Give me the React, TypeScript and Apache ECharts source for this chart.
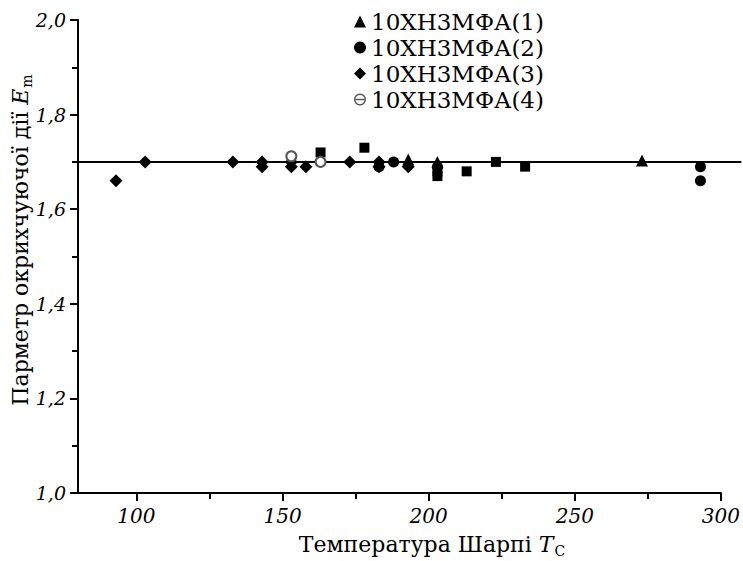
import React, { useEffect, useRef } from "react";
import * as echarts from "echarts";

const seriesNames = ["10ХН3МФА(1)", "10ХН3МФА(2)", "10ХН3МФА(3)", "10ХН3МФА(4)"];
const triangles: number[][] = [[193, 1.705], [203, 1.70], [273, 1.703]];
const circles: number[][] = [[183, 1.69], [188, 1.70], [203, 1.69], [293, 1.69], [293, 1.66]];
const diamonds: number[][] = [
  [93, 1.66], [103, 1.70], [133, 1.70], [143, 1.70], [143, 1.69], [153, 1.70], [153, 1.69],
  [158, 1.69], [173, 1.70], [183, 1.70], [183, 1.69], [193, 1.69],
];
const hollow: number[][] = [[153, 1.712], [163, 1.70]];
const squares: number[][] = [[163, 1.72], [178, 1.73], [203, 1.68], [203, 1.67], [213, 1.68], [223, 1.70], [233, 1.69]];
const refLine: number[][] = [[78.3, 1.7], [307, 1.7]];
const xMajorTicks = [100, 150, 200, 250, 300];
const xMinorTicks = [125, 175, 225, 275];

const FONT = "DejaVu Serif";
// circle outline with horizontal bar (⊖)
const THETA_ICON =
  "path://M50,0A50,50,0,1,1,49.99,0Z M50,12A38,38,0,1,0,50.01,12Z M14,44L86,44L86,56L14,56Z";

export default function App() {
  const ref = useRef<HTMLDivElement>(null);
  useEffect(() => {
    if (!ref.current) return;
    const chart = echarts.init(ref.current, null, { renderer: "svg" });
    const xBase = {
      type: "value" as const,
      min: 80,
      max: 300,
      splitLine: { show: false },
      axisLine: { lineStyle: { color: "#000", width: 2 } },
    };
    const sub = { fontFamily: FONT, fontSize: 14, fill: "#000", padding: [13, 0, 0, 1] };
    const ital = { fontFamily: FONT, fontSize: 22, fontStyle: "italic", fill: "#000" };
    chart.setOption({
      animation: false,
      backgroundColor: "#fff",
      grid: { left: 78, right: 22, top: 20, bottom: 68, containLabel: false },
      legend: {
        orient: "vertical",
        left: 354,
        top: 10,
        padding: 0,
        itemWidth: 12,
        itemHeight: 12,
        itemGap: 3,
        data: [
          { name: seriesNames[0] },
          { name: seriesNames[1] },
          { name: seriesNames[2] },
          { name: seriesNames[3], icon: THETA_ICON, itemStyle: { color: "#555" } },
        ],
        textStyle: { fontFamily: FONT, fontSize: 23, color: "#000", lineHeight: 23 },
      },
      xAxis: [
        {
          ...xBase,
          axisTick: { show: true, length: 8, inside: false, customValues: xMajorTicks, lineStyle: { color: "#000", width: 2 } },
          axisLabel: {
            customValues: xMajorTicks,
            margin: 13,
            fontFamily: FONT,
            fontStyle: "italic",
            fontSize: 20,
            color: "#000",
          },
        },
        {
          ...xBase,
          position: "bottom",
          axisLine: { show: false },
          axisTick: { show: true, length: 6, customValues: xMinorTicks, lineStyle: { color: "#000", width: 2 } },
          axisLabel: { show: false },
        },
      ],
      yAxis: {
        type: "value",
        min: 1.0,
        max: 2.0,
        interval: 0.2,
        splitLine: { show: false },
        axisLine: { show: true, lineStyle: { color: "#000", width: 2 } },
        axisTick: { show: true, length: 8, lineStyle: { color: "#000", width: 2 } },
        minorTick: { show: true, splitNumber: 2, length: 6, lineStyle: { color: "#000", width: 2 } },
        axisLabel: {
          margin: 12,
          fontFamily: FONT,
          fontStyle: "italic",
          fontSize: 19,
          color: "#000",
          formatter: (v: number) => v.toFixed(1).replace(".", ","),
        },
      },
      graphic: [
        {
          id: "xname",
          type: "text",
          x: 432,
          y: 544,
          style: {
            text: "Температура Шарпі {i|T}{s|C}",
            fontFamily: FONT,
            fontSize: 22,
            fill: "#000",
            align: "center",
            verticalAlign: "middle",
            rich: { i: ital, s: sub },
          },
        },
        {
          id: "yname",
          type: "text",
          x: 20,
          y: 240,
          rotation: Math.PI / 2,
          style: {
            text: "Парметр окрихчуючої дії {i|E}{s|m}",
            fontFamily: FONT,
            fontSize: 22,
            fill: "#000",
            align: "center",
            verticalAlign: "middle",
            rich: { i: ital, s: sub },
          },
        },
      ],
      series: [
        {
          name: seriesNames[0],
          type: "scatter",
          data: triangles,
          symbol: "triangle",
          symbolSize: 12,
          itemStyle: { color: "#000", opacity: 1 },
          z: 3,
        },
        {
          name: seriesNames[1],
          type: "scatter",
          data: circles,
          symbol: "circle",
          symbolSize: 11,
          itemStyle: { color: "#000", opacity: 1 },
          z: 3,
        },
        {
          name: seriesNames[2],
          type: "scatter",
          data: diamonds,
          symbol: "diamond",
          symbolSize: 13,
          itemStyle: { color: "#000", opacity: 1 },
          z: 3,
        },
        {
          name: seriesNames[3],
          type: "scatter",
          data: hollow,
          symbol: "emptyCircle",
          symbolSize: 10,
          itemStyle: { color: "#555", borderWidth: 1, opacity: 1 },
          z: 4,
        },
        {
          name: "squares",
          type: "scatter",
          data: squares,
          symbol: "rect",
          symbolSize: 10,
          itemStyle: { color: "#000", opacity: 1 },
          z: 3,
        },
      ],
    });
    const p0 = chart.convertToPixel({ gridIndex: 0 }, refLine[0]) as number[];
    const p1 = chart.convertToPixel({ gridIndex: 0 }, refLine[1]) as number[];
    chart.setOption({
      graphic: [
        {
          id: "refline",
          type: "line",
          z: 1,
          silent: true,
          shape: { x1: p0[0], y1: p0[1], x2: p1[0], y2: p1[1] },
          style: { stroke: "#000", lineWidth: 2 },
        },
      ],
    });
    return () => chart.dispose();
  }, []);
  return (
    <div
      ref={ref}
      style={{ position: "fixed", left: 0, top: 0, width: 743, height: 561, background: "#fff" }}
    />
  );
}
